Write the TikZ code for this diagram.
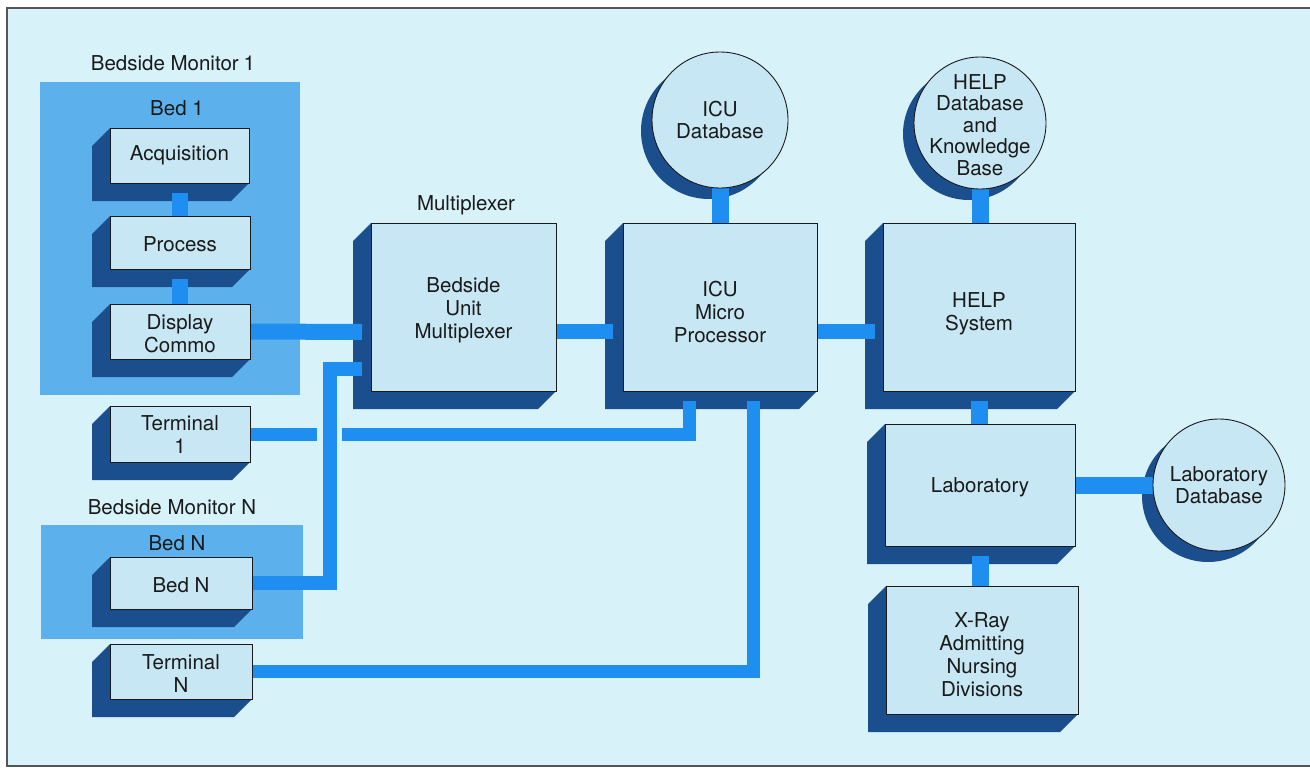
\documentclass[tikz,border=0pt]{standalone}
\usepackage{fontspec}
\setmainfont{TeX Gyre Heros}
\usetikzlibrary{calc}
\pgfdeclarelayer{bg}
\pgfdeclarelayer{shad}
\pgfdeclarelayer{wires}
\pgfsetlayers{bg,shad,wires,main}
\definecolor{bgc}{HTML}{D8F2FA}
\definecolor{facec}{HTML}{C8E7F4}
\definecolor{panelc}{HTML}{5CB1EC}
\definecolor{shadowc}{HTML}{1A4E8D}
\definecolor{wirec}{HTML}{1E8EF0}
\definecolor{txtc}{HTML}{1A1A1A}
\definecolor{framec}{HTML}{555555}
\tikzset{
  face/.style={rectangle, draw=txtc, line width=0.9pt, fill=facec, inner sep=0pt},
  txt/.style={inner sep=0pt, align=center, text=txtc, font=\fontsize{20.5}{23}\selectfont},
  tighttxt/.style={txt, font=\fontsize{20.5}{21.5}\selectfont},
  panel/.style={rectangle, fill=panelc, draw=none, inner sep=0pt},
  conn/.style={draw=wirec, line width=16pt},
  thin conn/.style={draw=wirec, line width=13pt},
}
% name, x0, y0, x1, y1, text, text offset (down)
\newcommand{\mybox}[7]{%
  \begin{pgfonlayer}{shad}
    \fill[shadowc] (#2,#3) -- ({#2-18},{#3+18}) -- ({#2-18},{#5+18}) -- ({#4-18},{#5+18}) -- (#4,#5) -- cycle;
  \end{pgfonlayer}
  \node[face, minimum width={(#4-#2)*1pt}, minimum height={(#5-#3)*1pt}] (#1) at ({(#2+#4)/2},{(#3+#5)/2}) {};
  \node[txt] (#1t) at ([yshift=-#7pt]#1.center) {#6};
}
\newcommand{\mycirc}[5]{%
  \begin{pgfonlayer}{shad}
    \fill[shadowc] ({#2-11},{#3+11}) circle[radius=#4pt];
  \end{pgfonlayer}
  \node[face, circle, minimum size={2*#4*1pt}] (#1) at (#2,#3) {};
}
\begin{document}
\begin{tikzpicture}[x=1pt,y=-1pt]
\useasboundingbox (0,0) rectangle (1310,768);
\begin{pgfonlayer}{bg}
  \fill[white] (0,0) rectangle (1310,768);
  \fill[bgc] (7,8) rectangle (1312,766);
  \draw[framec, line width=1.3pt] (1312,8) -- (7,8) -- (7,766) -- (1312,766);
  \node[panel, minimum width=260pt, minimum height=313pt] (bm1) at (170,238.5) {};
  \node[panel, minimum width=262pt, minimum height=114pt] (bmN) at (172,582) {};
\end{pgfonlayer}

% labels
\node[txt] (lbm1) at (173,63) {Bedside Monitor\hspace{5pt}1};
\node[txt] (lbed1) at (177,108) {Bed 1};
\node[txt] (lbmN) at (172,507) {Bedside Monitor N};
\node[txt] (lbedN) at (177,543) {Bed N};
\node[txt] (lmux) at (466,205) {Multiplexer};

% boxes
\mybox{acq}{110}{128}{249}{183}{Acquisition}{0}
\mybox{proc}{110}{216}{250}{269}{Process}{2}
\mybox{disp}{110}{304}{250}{359}{Display\\Commo}{2}
\mybox{term1}{110}{406}{250}{462}{Terminal\\1}{1}
\mybox{bedN}{110}{557}{252}{609}{Bed N}{2}
\mybox{termN}{110}{644}{252}{699}{Terminal\\N}{2}
\mybox{mux}{371}{223}{556}{391}{Bedside\\Unit\\Multiplexer}{3}
\mybox{icu}{623}{223}{817}{391}{ICU\\Micro\\Processor}{5}
\mybox{help}{883}{223}{1075}{391}{HELP\\System}{7}
\mybox{lab}{885}{424}{1075}{546}{Laboratory}{2}
\mybox{xray}{886}{586}{1078}{714}{X-Ray\\Admitting\\Nursing\\Divisions}{5}

% circles
\mycirc{icudb}{720}{120}{68}{}
\node[tighttxt] (icudbt) at (icudb.center) {ICU\\Database};
\mycirc{helpdb}{980}{123}{66}{}
\node[tighttxt] (helpdbt) at ([yshift=-2pt]helpdb.center) {HELP\\Database\\and\\Knowledge\\Base};
\mycirc{labdb}{1219}{485}{66}{}
\node[tighttxt] (labdbt) at (labdb.center) {Laboratory\\Database};

% free ends
\coordinate (muxin1) at (362,332);
\coordinate (muxin2) at (362,369);
\coordinate (jN) at (330,369);
\coordinate (gapL) at (317,434);
\coordinate (gapR) at (342,434);
\coordinate (icuout1) at (689.5,401);
\coordinate (icuout2) at (753.5,401);

\begin{pgfonlayer}{wires}
  \draw[conn] ([yshift=-10pt]acq.south) -- (acq.south |- proc.north);
  \draw[conn] ([yshift=-10pt]proc.south) -- (proc.south |- disp.north);
  \draw[conn] (disp.east) -- (muxin1);
  \draw[line width=14pt, draw=wirec] (bedN.east) -| (jN) -- (muxin2);
  \draw[thin conn] (term1.east) -- (gapL);
  \draw[thin conn] (gapR) -| (icuout1);
  \draw[thin conn] (termN.east) -| (icuout2);
  \draw[conn, line width=15pt] ([yshift=-24.5pt]mux.east) -- ([xshift=-10pt,yshift=-24.5pt]icu.west);
  \draw[conn, line width=15pt] ([yshift=-24.5pt]icu.east) -- ([xshift=-8pt,yshift=-24.5pt]help.west);
  \draw[conn, line width=17pt] (icudb.south) -- (icudb.south |- icu.north);
  \draw[conn, line width=17pt] (helpdb.south) -- (helpdb.south |- help.north);
  \draw[conn, line width=17pt] ([yshift=-10pt]help.south) -- (help.south |- lab.north);
  \draw[conn, line width=17pt] ([yshift=-10pt]lab.south) -- (lab.south |- xray.north);
  \draw[conn, line width=17pt] (lab.east |- labdb.west) -- (labdb.west);
\end{pgfonlayer}
\end{tikzpicture}
\end{document}
